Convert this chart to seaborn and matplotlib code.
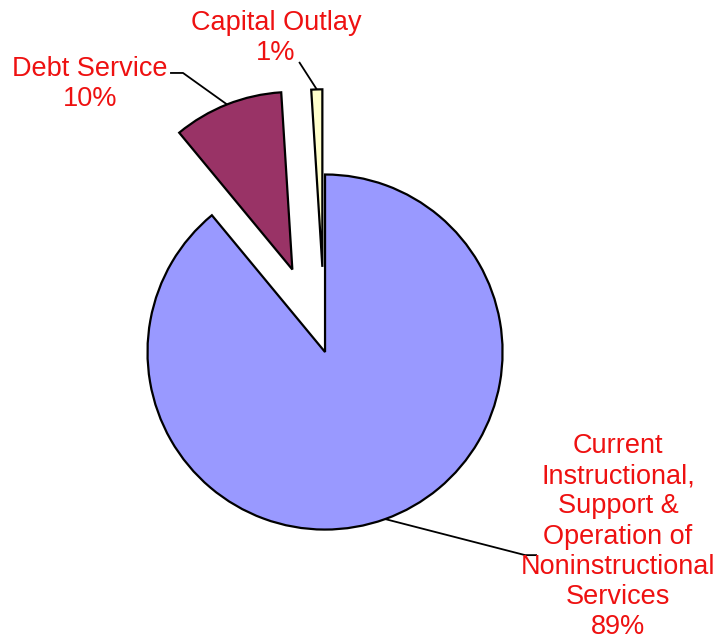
import numpy as np
import matplotlib
matplotlib.use("Agg")
import matplotlib.pyplot as plt
import seaborn as sns

# Expenditure shares (percent)
categories = [
    "Current\nInstructional,\nSupport &\nOperation of\nNoninstructional\nServices",
    "Debt Service",
    "Capital Outlay",
]
shares = [89, 10, 1]
colors = ["#9999ff", "#993366", "#ffffcc"]
explode = [0.0, 0.5, 0.48]

sns.set_theme(style="white")
plt.rcParams["font.family"] = ["Liberation Sans", "DejaVu Sans"]

fig = plt.figure(figsize=(7.17, 6.43), dpi=100)
ax = fig.add_axes([0, 0, 1, 1])
wedges, _ = ax.pie(
    shares,
    colors=colors,
    explode=explode,
    startangle=90,
    counterclock=False,
    wedgeprops=dict(edgecolor="black", linewidth=1.6),
)
ax.set_xlim(-1.831, 2.208)
ax.set_ylim(-1.639, 1.983)
ax.set_aspect("auto")
ax.axis("off")

# label placement: text centre and leader-line path after the wedge edge
label_pos = [(1.651, -1.04), (-1.324, 1.510), (-0.276, 1.769)]
leader_tail = [
    [(1.127, -1.144), (1.194, -1.144)],
    [(-0.80, 1.572), (-0.873, 1.572)],
    [(-0.146, 1.634)],
]

red = "#ee1111"
for w, name, pct, pos, tail in zip(wedges, categories, shares, label_pos, leader_tail):
    mid = np.deg2rad((w.theta1 + w.theta2) / 2)
    cx, cy = w.center
    start = (cx + w.r * np.cos(mid), cy + w.r * np.sin(mid))
    pts = [start] + tail
    ax.plot([p[0] for p in pts], [p[1] for p in pts], color="black", lw=1.3,
            solid_capstyle="butt", zorder=1)
    ax.text(pos[0], pos[1], f"{name}\n{pct}%", color=red, fontsize=19.5,
            ha="center", va="center", linespacing=1.21)

fig.savefig("out.png", dpi=100, facecolor="white")
